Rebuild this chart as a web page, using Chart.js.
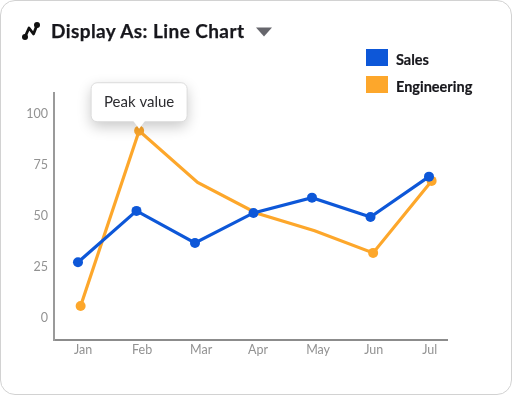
<!DOCTYPE html>
<html>
<head>
<meta charset="utf-8">
<script src="https://cdn.jsdelivr.net/npm/chart.js@4"></script>
<style>
  html, body { margin: 0; padding: 0; background: #fff; }
  body { width: 512px; height: 395px; position: relative; overflow: hidden; font-family: Lato, sans-serif; }
  #card { position: absolute; left: 0; top: 0; width: 510px; height: 393px; border: 1.5px solid #d2d2d2; border-radius: 15px; }
  #chart { position: absolute; left: 0; top: 0; }
  #icon { position: absolute; left: 21px; top: 21px; }
  #title { position: absolute; left: 51px; top: 19px; font-size: 19px; line-height: 24px; font-weight: 700; color: #17171c; letter-spacing: 0.42px; white-space: nowrap; -webkit-text-stroke: 0.25px #17171c; }
  #caret { position: absolute; left: 255px; top: 27px; }
  .key { position: absolute; left: 366px; width: 22px; height: 17px; }
  .keyText { position: absolute; left: 396px; font-size: 14.5px; line-height: 18px; margin-top: 1.5px; font-weight: 700; color: #17171c; white-space: nowrap; -webkit-text-stroke: 0.2px #17171c; }
</style>
</head>
<body>
<div id="card"></div>
<canvas id="chart" width="512" height="395"></canvas>
<svg id="icon" width="20" height="20" viewBox="0 0 20 20">
  <polyline points="4,16 8,7 12.5,13 16,4" fill="none" stroke="#111" stroke-width="2.8" stroke-linejoin="round"></polyline>
  <circle cx="4" cy="16" r="3" fill="#111"></circle>
  <circle cx="16" cy="4" r="3" fill="#111"></circle>
</svg>
<div id="title">Display As: Line Chart</div>
<svg id="caret" width="18" height="10" viewBox="0 0 18 10"><path d="M1 0.5 H17 L9 9.5 Z" fill="#66666c"></path></svg>
<div id="legend"></div>

<script>
const months = ["Jan", "Feb", "Mar", "Apr", "May", "Jun", "Jul"];
const salesValues = [26.8, 52, 36.3, 51, 58.5, 49, 68.8];
const engineeringValues = [5.4, 91.3, 66, 51, 42.3, 31.4, 66.7];
const yTicks = [0, 25, 50, 75, 100];
const salesName = "Sales";
const engineeringName = "Engineering";
const peakText = "Peak value";

const BLUE = "#0d57d8";
const ORANGE = "#fda72b";

// engineering only has dots on some of the months
const engineeringDots = [5, 5, 0, 0, 0, 5, 5];

// little callout above the highest engineering point
const peakCallout = {
  id: "peakCallout",
  afterDatasetsDraw(chart) {
    const peakIndex = engineeringValues.indexOf(Math.max(...engineeringValues));
    const pt = chart.getDatasetMeta(1).data[peakIndex];
    const ctx = chart.ctx;
    const w = 96, h = 39;
    const left = pt.x - 48;
    const bottom = pt.y - 9;
    const top = bottom - h;

    ctx.save();
    ctx.shadowColor = "rgba(0,0,0,0.22)";
    ctx.shadowBlur = 14;
    ctx.shadowOffsetY = 5;
    ctx.fillStyle = "#fff";
    ctx.beginPath();
    ctx.roundRect(left, top, w, h, 6);
    ctx.fill();
    ctx.shadowColor = "transparent";
    ctx.strokeStyle = "#dcdcdc";
    ctx.lineWidth = 1;
    ctx.stroke();

    // pointer
    ctx.fillStyle = "#fff";
    ctx.beginPath();
    ctx.moveTo(pt.x - 6, bottom - 1);
    ctx.lineTo(pt.x + 6, bottom - 1);
    ctx.lineTo(pt.x, bottom + 7);
    ctx.closePath();
    ctx.fill();

    ctx.fillStyle = "#2c2c30";
    ctx.font = "15px Lato";
    ctx.textAlign = "center";
    ctx.textBaseline = "middle";
    ctx.fillText(peakText, pt.x, top + h / 2);
    ctx.restore();
  },
};

const ctx = document.getElementById("chart").getContext("2d");

const myChart = new Chart(ctx, {
  type: "line",
  data: {
    datasets: [
      {
        label: salesName,
        data: salesValues.map((v, i) => ({ x: i, y: v })),
        borderColor: BLUE,
        backgroundColor: BLUE,
        borderWidth: 3.2,
        pointRadius: 5,
        pointBorderWidth: 0,
        tension: 0,
        order: 0,
      },
      {
        label: engineeringName,
        data: engineeringValues.map((v, i) => ({ x: i + 0.045, y: v })),
        borderColor: ORANGE,
        backgroundColor: ORANGE,
        borderWidth: 3.2,
        pointRadius: engineeringDots,
        pointBorderWidth: 0,
        tension: 0,
        order: 1,
      },
    ],
  },
  options: {
    responsive: false,
    animation: false,
    layout: {
      padding: { left: 0, top: 93, right: 65, bottom: 0 },
    },
    plugins: {
      legend: { display: false },
      tooltip: { enabled: false },
    },
    scales: {
      x: {
        type: "linear",
        min: -0.41,
        max: 6.308,
        afterBuildTicks: (axis) => {
          axis.ticks = months.map((m, i) => ({ value: i * 0.992 - 0.068 }));
        },
        afterFit: (axis) => {
          axis.height = 55;
        },
        grid: { display: false, drawTicks: false },
        border: { display: true, color: "#8c8c8c", width: 2 },
        ticks: {
          align: "start",
          autoSkip: false,
          maxRotation: 0,
          padding: 2,
          color: "#929292",
          font: { family: "Lato", size: 12.5 },
          callback: (value, index) => months[index],
        },
      },
      y: {
        min: -11.3,
        max: 109.8,
        afterBuildTicks: (axis) => {
          axis.ticks = yTicks.map((v) => ({ value: v }));
        },
        afterFit: (axis) => {
          axis.width = 54;
        },
        grid: { display: false, drawTicks: false },
        border: { display: true, color: "#9a9a9a", width: 2 },
        ticks: {
          padding: 6,
          labelOffset: 1,
          color: "#929292",
          font: { family: "Lato", size: 12.5 },
          callback: (value) => value,
        },
      },
    },
  },
  plugins: [peakCallout],
});

// legend on the top right
const legendEl = document.getElementById("legend");
myChart.data.datasets.forEach((d, i) => {
  const y = 49 + i * 27;
  legendEl.innerHTML +=
    `<div class="key" style="top:${y}px;background:${d.backgroundColor}"></div>` +
    `<div class="keyText" style="top:${y}px">${d.label}</div>`;
});
</script>
</body>
</html>
